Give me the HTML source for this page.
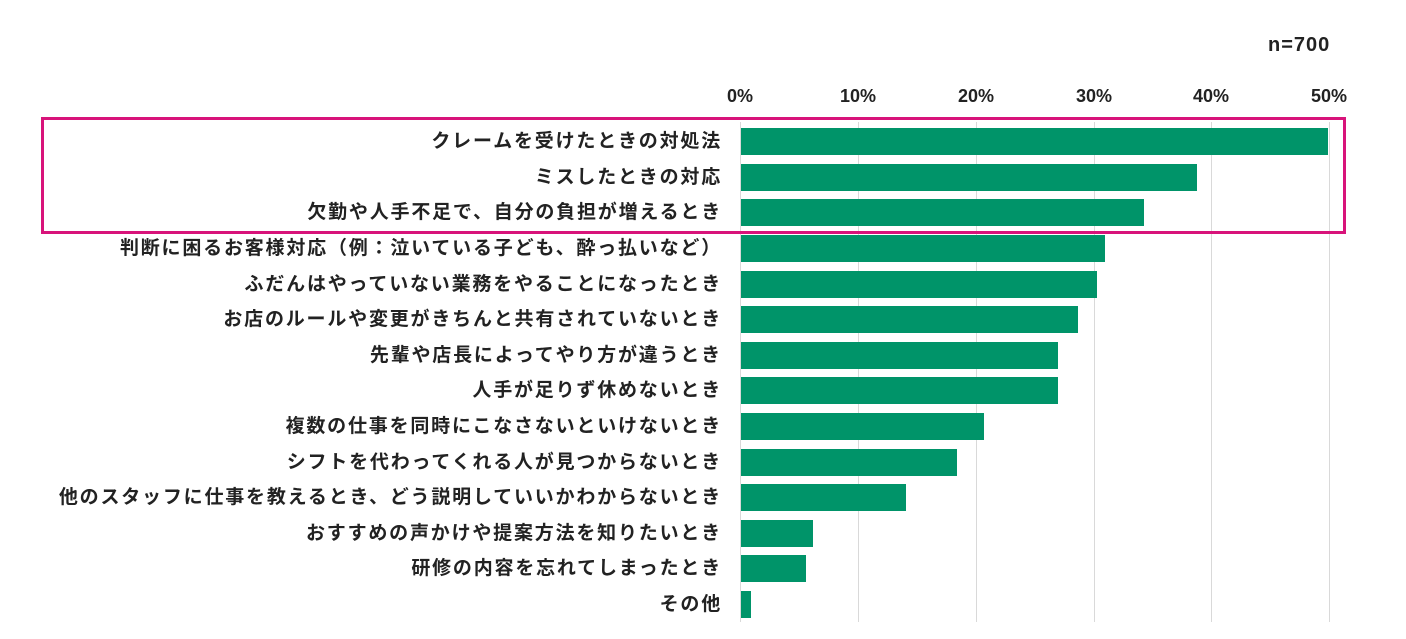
<!DOCTYPE html>
<html><head><meta charset="utf-8"><style>
body{margin:0;width:1406px;height:639px;background:#fff;overflow:hidden;position:relative;font-family:"Liberation Sans","Noto Sans CJK JP",sans-serif;font-weight:bold;color:#222}
.g{position:absolute;top:122px;width:1px;height:500px;background:#d9d9d9}
.t{position:absolute;top:86px;width:60px;margin-left:-30px;text-align:center;font-size:18px}
.b{position:absolute;left:741px;height:27px;background:#009469}
.l{position:absolute;right:684px;font-size:19px;letter-spacing:1.8px;white-space:nowrap;line-height:27px}
</style></head><body>
<div style="position:absolute;left:1268px;top:34px;font-size:20px;letter-spacing:1px">n=700</div>
<div class="g" style="left:740px"></div><div class="g" style="left:858px"></div><div class="g" style="left:976px"></div><div class="g" style="left:1094px"></div><div class="g" style="left:1211px"></div><div class="g" style="left:1329px"></div>
<div class="t" style="left:740px">0%</div><div class="t" style="left:858px">10%</div><div class="t" style="left:976px">20%</div><div class="t" style="left:1094px">30%</div><div class="t" style="left:1211px">40%</div><div class="t" style="left:1329px">50%</div>
<div class="b" style="top:128px;width:587px"></div><div class="l" style="top:128px">クレームを受けたときの対処法</div>
<div class="b" style="top:164px;width:456px"></div><div class="l" style="top:164px">ミスしたときの対応</div>
<div class="b" style="top:199px;width:403px"></div><div class="l" style="top:199px">欠勤や人手不足で、自分の負担が増えるとき</div>
<div class="b" style="top:235px;width:364px"></div><div class="l" style="top:235px">判断に困るお客様対応（例：泣いている子ども、酔っ払いなど）</div>
<div class="b" style="top:271px;width:356px"></div><div class="l" style="top:271px">ふだんはやっていない業務をやることになったとき</div>
<div class="b" style="top:306px;width:337px"></div><div class="l" style="top:306px">お店のルールや変更がきちんと共有されていないとき</div>
<div class="b" style="top:342px;width:317px"></div><div class="l" style="top:342px">先輩や店長によってやり方が違うとき</div>
<div class="b" style="top:377px;width:317px"></div><div class="l" style="top:377px">人手が足りず休めないとき</div>
<div class="b" style="top:413px;width:243px"></div><div class="l" style="top:413px">複数の仕事を同時にこなさないといけないとき</div>
<div class="b" style="top:449px;width:216px"></div><div class="l" style="top:449px">シフトを代わってくれる人が見つからないとき</div>
<div class="b" style="top:484px;width:165px"></div><div class="l" style="top:484px">他のスタッフに仕事を教えるとき、どう説明していいかわからないとき</div>
<div class="b" style="top:520px;width:72px"></div><div class="l" style="top:520px">おすすめの声かけや提案方法を知りたいとき</div>
<div class="b" style="top:555px;width:65px"></div><div class="l" style="top:555px">研修の内容を忘れてしまったとき</div>
<div class="b" style="top:591px;width:10px"></div><div class="l" style="top:591px">その他</div>
<div style="position:absolute;left:41px;top:117px;width:1299px;height:111px;border:3px solid #d8137a"></div>
</body></html>
